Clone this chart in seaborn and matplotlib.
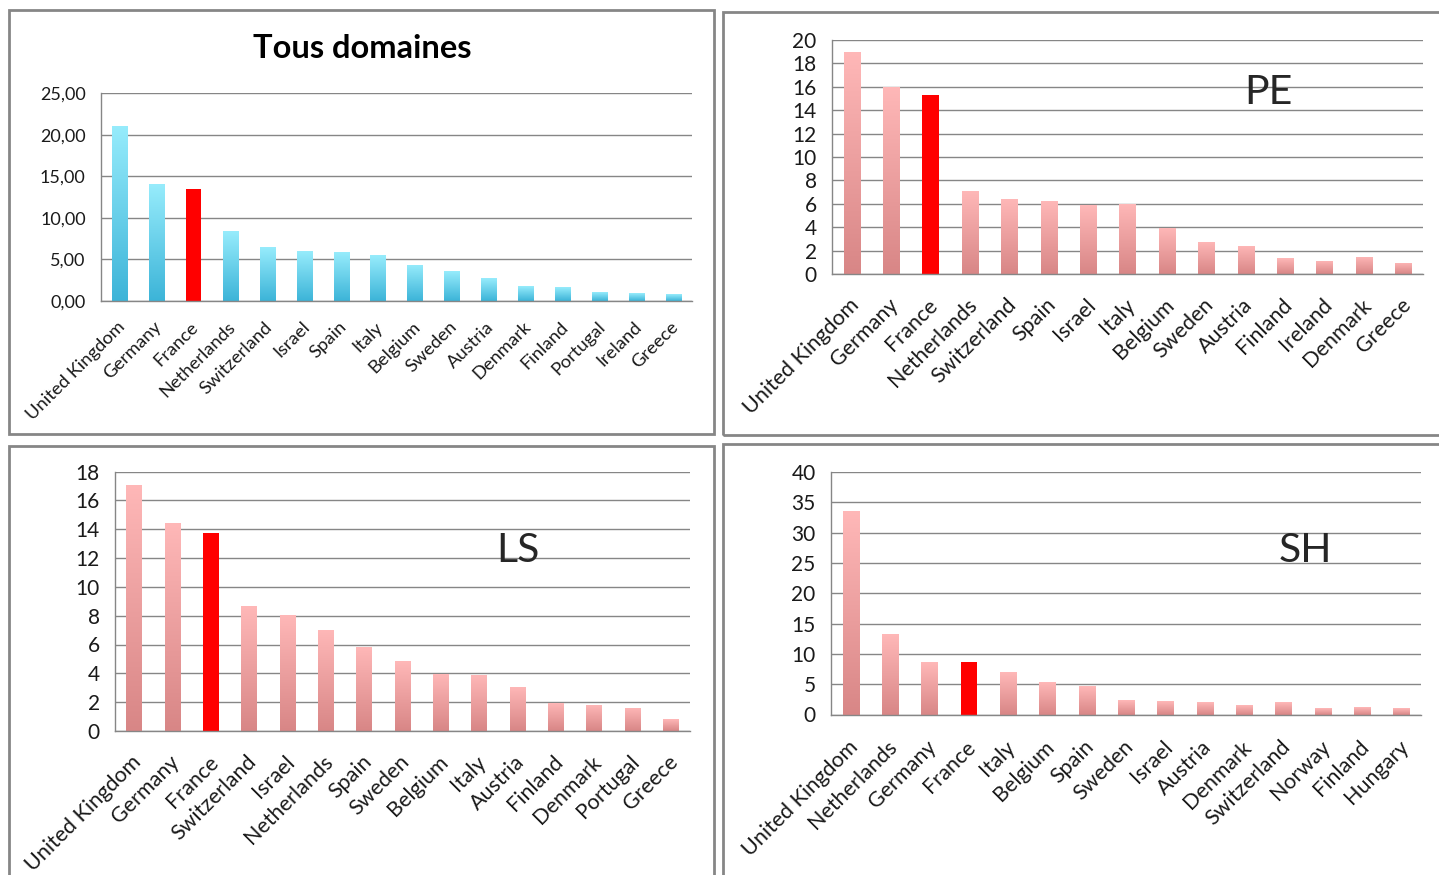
import matplotlib
matplotlib.use("Agg")
import numpy as np
import pandas as pd
import seaborn as sns
import matplotlib.pyplot as plt
import matplotlib.transforms as mtransforms
from matplotlib.colors import LinearSegmentedColormap
from matplotlib.patches import Rectangle
from matplotlib.ticker import FixedLocator, FuncFormatter

# --- data ---
all_countries = ["United Kingdom", "Germany", "France", "Netherlands", "Switzerland",
                 "Israel", "Spain", "Italy", "Belgium", "Sweden", "Austria", "Denmark",
                 "Finland", "Portugal", "Ireland", "Greece"]
all_values = [21.1, 14.06, 13.5, 8.4, 6.5, 6.0, 5.9, 5.5, 4.34, 3.53, 2.73, 1.73,
              1.6, 1.04, 0.92, 0.8]

pe_countries = ["United Kingdom", "Germany", "France", "Netherlands", "Switzerland",
                "Spain", "Israel", "Italy", "Belgium", "Sweden", "Austria", "Finland",
                "Ireland", "Denmark", "Greece"]
pe_values = [19.0, 16.0, 15.34, 7.11, 6.43, 6.26, 5.86, 6.0, 3.97, 2.74, 2.4, 1.34,
             1.14, 1.46, 0.97]

ls_countries = ["United Kingdom", "Germany", "France", "Switzerland", "Israel",
                "Netherlands", "Spain", "Sweden", "Belgium", "Italy", "Austria",
                "Finland", "Denmark", "Portugal", "Greece"]
ls_values = [17.08, 14.44, 13.7, 8.66, 8.06, 7.04, 5.86, 4.84, 3.98, 3.89, 3.08,
             1.97, 1.83, 1.62, 0.81]

sh_countries = ["United Kingdom", "Netherlands", "Germany", "France", "Italy",
                "Belgium", "Spain", "Sweden", "Israel", "Austria", "Denmark",
                "Switzerland", "Norway", "Finland", "Hungary"]
sh_values = [33.6, 13.3, 8.6, 8.6, 6.96, 5.43, 4.66, 2.41, 2.25, 2.03, 1.64, 2.03,
             1.1, 1.3, 1.1]

W, H = 1439, 875
GRAY = "#868686"
TEXT = "#1a1a1a"

sns.set_style("white")
plt.rcParams["font.family"] = ["Lato", "DejaVu Sans"]

fig = plt.figure(figsize=(W / 100, H / 100), dpi=100)
fig.patch.set_facecolor("white")


def px_axes(x0, y0, x1, y1):
    return fig.add_axes([x0 / W, 1 - y1 / H, (x1 - x0) / W, (y1 - y0) / H])


def draw_panel(ax, countries, values, ymax, step, top, bottom,
               tick_fs, label_fs, pad, fmt=None):
    df = pd.DataFrame({"country": countries, "value": values})
    sns.barplot(data=df, x="country", y="value", color=top, width=0.41,
                saturation=1, linewidth=0, ax=ax)
    n = len(countries)
    cmap = LinearSegmentedColormap.from_list("grad", [bottom, top])
    grad = np.linspace(0, 1, 256).reshape(-1, 1)
    for name, bar in zip(countries, ax.containers[0]):
        if name == "France":
            bar.set_facecolor("#FF0000")
            continue
        x, w, h = bar.get_x(), bar.get_width(), bar.get_height()
        bar.set_facecolor("none")
        im = ax.imshow(grad, extent=[x, x + w, 0, h], origin="lower", cmap=cmap,
                       aspect="auto", interpolation="bilinear", zorder=2)
        im.set_clip_path(bar)

    ax.set_xlim(-0.5, n - 0.5)
    ax.set_ylim(0, ymax)
    ax.set_xlabel("")
    ax.set_ylabel("")

    ax.yaxis.set_major_locator(FixedLocator(np.arange(0, ymax + step / 2, step)))
    if fmt:
        ax.yaxis.set_major_formatter(FuncFormatter(fmt))
    ax.yaxis.grid(True, color=GRAY, lw=1)
    ax.set_axisbelow(True)

    for side in ["top", "right"]:
        ax.spines[side].set_visible(False)
    for side in ["left", "bottom"]:
        ax.spines[side].set_color(GRAY)
        ax.spines[side].set_linewidth(1)

    ax.tick_params(axis="y", length=5, width=1, color=GRAY, labelsize=tick_fs,
                   labelcolor=TEXT, pad=6)
    ax.set_xticks(range(n))
    ax.set_xticks(np.arange(-0.5, n, 1), minor=True)
    ax.tick_params(axis="x", which="major", length=0, pad=pad, labelsize=label_fs,
                   labelcolor=TEXT)
    ax.tick_params(axis="x", which="minor", length=6, width=1, color=GRAY)
    ax.set_xticklabels(countries, rotation=45, ha="right", rotation_mode="anchor")
    shift = mtransforms.ScaledTranslation(-3 / 100, 0, fig.dpi_scale_trans)
    for lab in ax.get_xticklabels():
        lab.set_transform(lab.get_transform() + shift)


blue_top, blue_bottom = "#97ECFC", "#3CB4D8"
pink_top, pink_bottom = "#FFB8B8", "#D88686"

# panel borders
for x0, y0, x1, y1 in [(9, 10, 714, 434), (723, 12, 1460, 435),
                       (9, 446, 714, 900), (723, 444, 1460, 900)]:
    fig.patches.append(Rectangle((x0 / W, 1 - y1 / H), (x1 - x0) / W, (y1 - y0) / H,
                                 transform=fig.transFigure, fill=False,
                                 edgecolor=GRAY, lw=2))

ax1 = px_axes(101, 93.3, 692, 300.7)
draw_panel(ax1, all_countries, all_values, 25, 5, blue_top, blue_bottom,
           13, 13.2, 13, fmt=lambda v, p: f"{v:.2f}".replace(".", ","))
fig.text(362 / W, 1 - 49 / H, "Tous domaines", fontsize=23.5, fontweight="bold",
         ha="center", va="center", color="black")

ax2 = px_axes(832, 40, 1423, 274)
draw_panel(ax2, pe_countries, pe_values, 20, 2, pink_top, pink_bottom,
           15, 15.5, 15)
fig.text(1268 / W, 1 - 92 / H, "PE", fontsize=29.5, ha="center", va="center")

ax3 = px_axes(115, 471.5, 690, 731)
draw_panel(ax3, ls_countries, ls_values, 18, 2, pink_top, pink_bottom,
           15, 15.5, 15)
fig.text(518 / W, 1 - 551 / H, "LS", fontsize=29.5, ha="center", va="center")

ax4 = px_axes(831, 472, 1421, 714.5)
draw_panel(ax4, sh_countries, sh_values, 40, 5, pink_top, pink_bottom,
           15, 15.5, 16)
fig.text(1305 / W, 1 - 551 / H, "SH", fontsize=29.5, ha="center", va="center")

fig.savefig("out.png", dpi=100)
plt.close(fig)
